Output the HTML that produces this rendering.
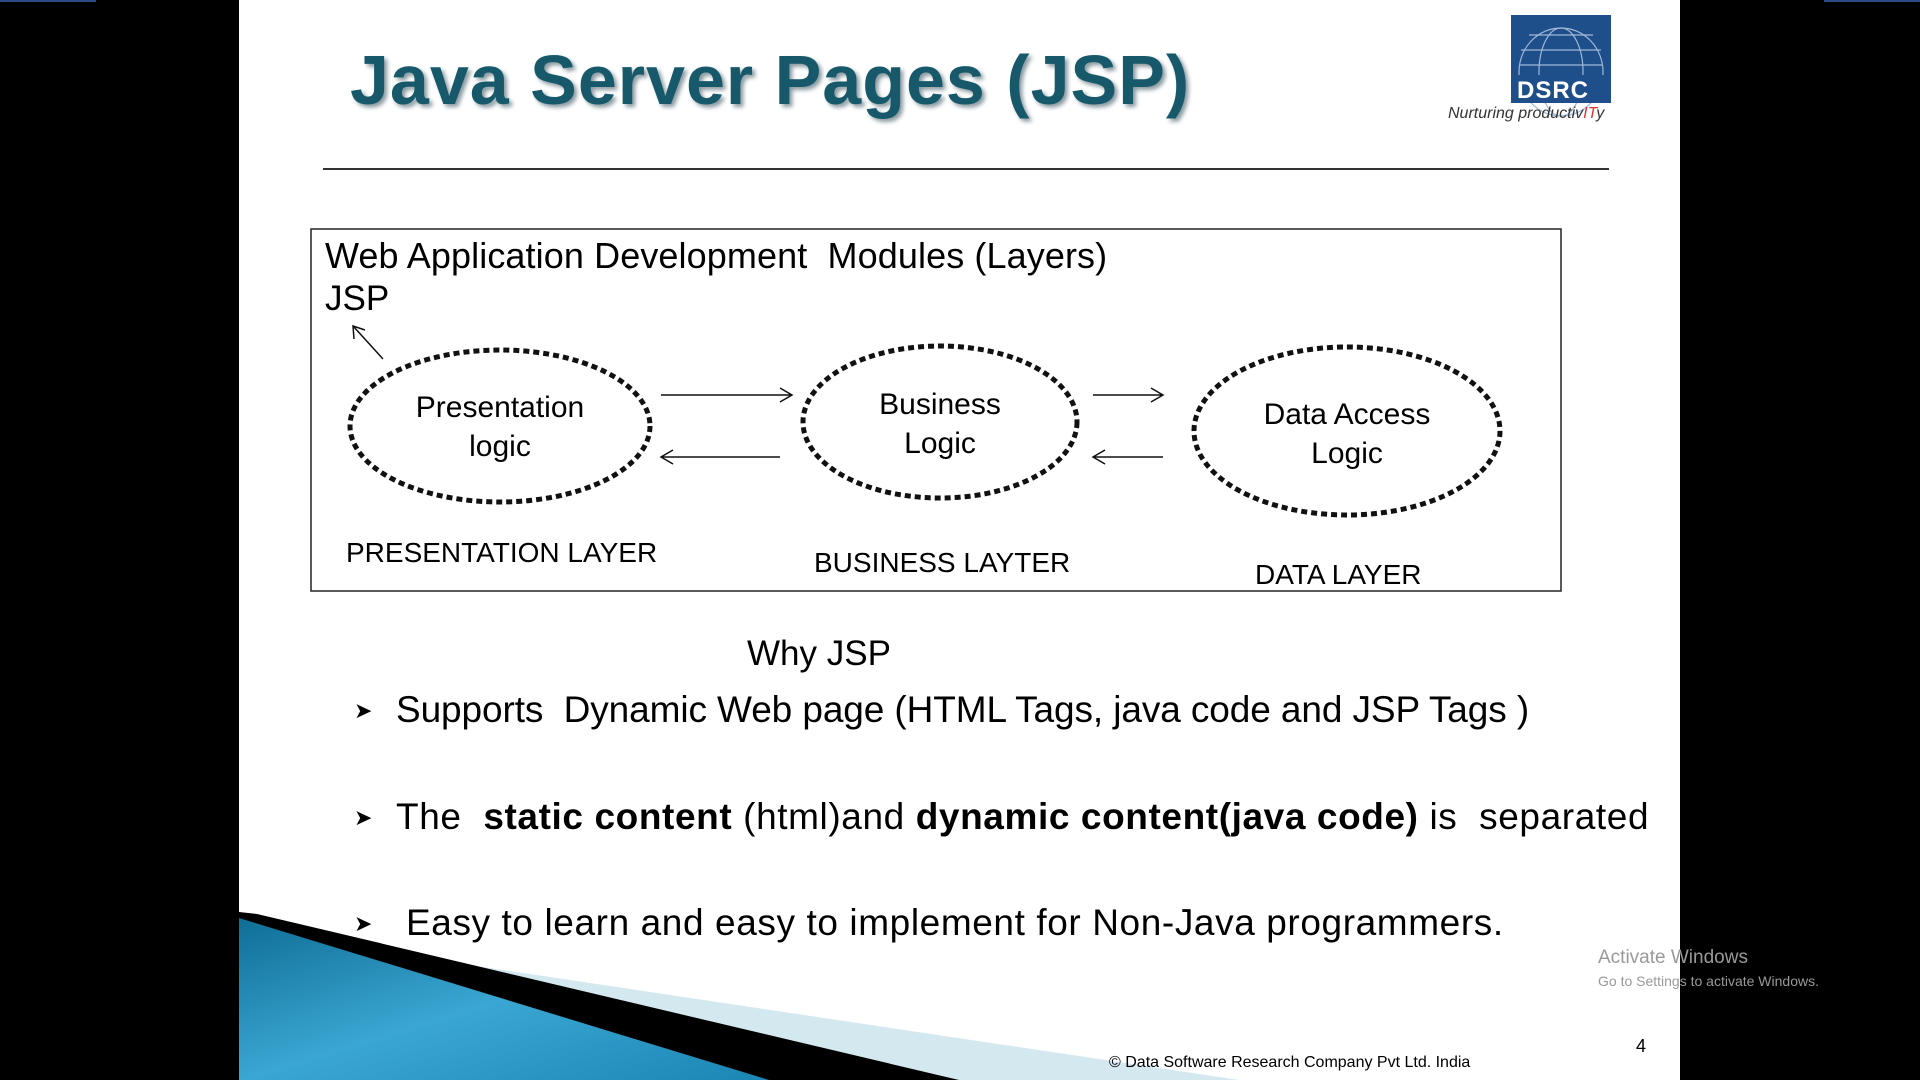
<!DOCTYPE html>
<html><head><meta charset="utf-8"><style>
body{margin:0;width:1920px;height:1080px;background:#000;overflow:hidden;position:relative;font-family:"Liberation Sans",sans-serif}
.slide{position:absolute;left:239px;top:0;width:1441px;height:1080px;background:#fff;overflow:hidden}
.t{position:absolute;white-space:nowrap;color:#000}
</style></head><body>
<div style="position:absolute;left:0;top:0;width:96px;height:2px;background:#2a4d8a"></div>
<div style="position:absolute;left:1824px;top:0;width:96px;height:2px;background:#2a4d8a"></div>
<div class="slide">
<svg width="1441" height="1080" style="position:absolute;left:0;top:0">
<defs><linearGradient id="g" x1="0" y1="0" x2="1" y2="1"><stop offset="0" stop-color="#0f6e96"/><stop offset="0.5" stop-color="#3aa6d2"/><stop offset="1" stop-color="#1b86b4"/></linearGradient></defs>
<polygon points="130,950 1000,1080 620,1080" fill="#d4e8f0"/>
<polygon points="0,912 18,914 720,1080 0,1080" fill="#000"/>
<polygon points="0,918 530,1080 0,1080" fill="url(#g)"/>
<line x1="84" y1="169" x2="1370" y2="169" stroke="#333" stroke-width="2"/>
<rect x="72" y="229" width="1250" height="362" fill="none" stroke="#222" stroke-width="1.5"/>
<rect x="1272" y="15" width="100" height="88" fill="#1f4f8a"/>
<g fill="none" stroke="#9fb8d8" stroke-width="1.2">
<ellipse cx="1322" cy="72" rx="42" ry="44"/>
<ellipse cx="1322" cy="72" rx="22" ry="44"/>
<path d="M1282 50 H1362 M1281 65 H1363 M1290 35 H1354"/>
</g>
<rect x="1272" y="75" width="100" height="28" fill="#1f4f8a"/>
<g fill="none" stroke="#111" stroke-width="5" stroke-dasharray="6,4">
<ellipse cx="261" cy="426" rx="150" ry="76"/>
<ellipse cx="701" cy="422" rx="137" ry="76"/>
<ellipse cx="1108" cy="431" rx="153" ry="84"/>
</g>
<g fill="none" stroke="#111" stroke-width="1.5">
<path d="M422 395 H553 M541 388 L553 395 L541 402"/>
<path d="M541 457 H422 M434 450 L422 457 L434 464"/>
<path d="M854 395 H924 M912 388 L924 395 L912 402"/>
<path d="M924 457 H854 M866 450 L854 457 L866 464"/>
<path d="M144 359 L114 326 M115 339 L114 326 L126 330"/>
</g>
</svg>
<div class="t" style="left:111px;top:40px;font-size:70px;font-weight:bold;letter-spacing:1px;color:#17596b;text-shadow:3px 3px 4px #8a9aa0">Java Server Pages (JSP)</div>
<div class="t" style="left:1278px;top:77px;font-size:24px;font-weight:bold;color:#fff;letter-spacing:1px">DSRC</div>
<div class="t" style="left:1209px;top:105px;font-size:16px;font-style:italic;color:#333">Nurturing productiv<span style="color:#d33">IT</span>y</div>
<div class="t" style="left:86px;top:235px;font-size:36px;letter-spacing:0.1px">Web Application Development&nbsp; Modules (Layers)</div>
<div class="t" style="left:86px;top:279px;font-size:35px">JSP</div>
<div class="t" style="left:111px;top:388px;width:300px;text-align:center;font-size:30px;line-height:39px">Presentation<br>logic</div>
<div class="t" style="left:551px;top:385px;width:300px;text-align:center;font-size:30px;line-height:39px">Business<br>Logic</div>
<div class="t" style="left:958px;top:395px;width:300px;text-align:center;font-size:30px;line-height:39px">Data Access<br>Logic</div>
<div class="t" style="left:107px;top:537px;font-size:28px">PRESENTATION LAYER</div>
<div class="t" style="left:575px;top:547px;font-size:28px">BUSINESS LAYTER</div>
<div class="t" style="left:1016px;top:559px;font-size:28px">DATA LAYER</div>
<div class="t" style="left:508px;top:634px;font-size:35px">Why JSP</div>
<div class="t" style="left:115px;top:698px;font-size:22px">&#10148;</div>
<div class="t" style="left:157px;top:689px;font-size:37px;letter-spacing:-0.1px">Supports&nbsp; Dynamic Web page (HTML Tags, java code and JSP Tags )</div>
<div class="t" style="left:115px;top:805px;font-size:22px">&#10148;</div>
<div class="t" style="left:157px;top:796px;font-size:37px;letter-spacing:0.6px">The&nbsp; <b>static content</b> (html)and <b>dynamic content(java code)</b> is&nbsp; separated</div>
<div class="t" style="left:115px;top:911px;font-size:22px">&#10148;</div>
<div class="t" style="left:167px;top:902px;font-size:37px;letter-spacing:0.6px">Easy to learn and easy to implement for Non-Java programmers.</div>
<div class="t" style="left:870px;top:1054px;font-size:16px">© Data Software Research Company Pvt Ltd. India</div>
<div class="t" style="left:1397px;top:1036px;font-size:18px">4</div>
</div>
<div class="t" style="left:1598px;top:947px;font-size:19px;color:#999">Activate Windows</div>
<div class="t" style="left:1598px;top:973px;font-size:14px;color:#999">Go to Settings to activate Windows.</div>
</body></html>
